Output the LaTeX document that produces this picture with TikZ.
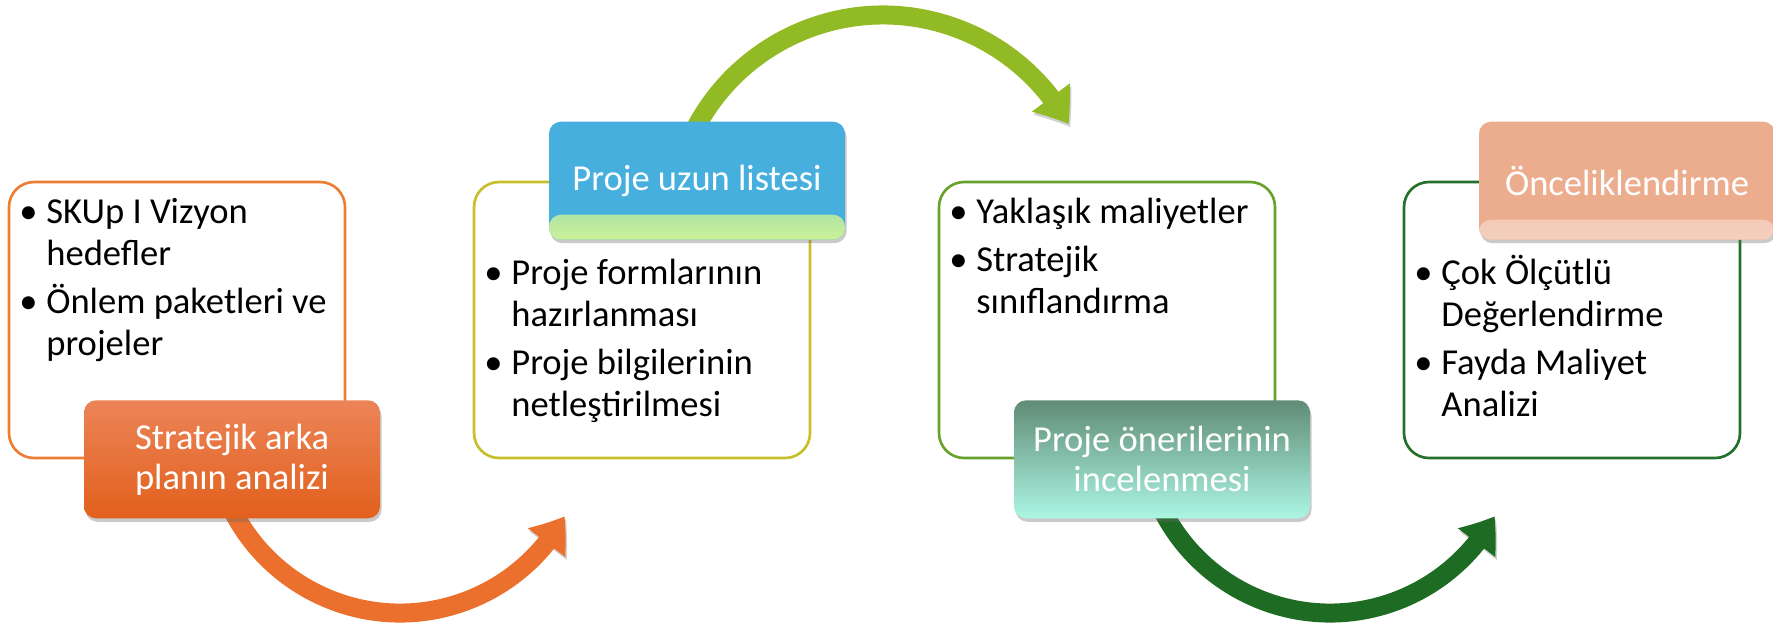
\documentclass[tikz,border=0pt]{standalone}
\usepackage{fontspec}
\setmainfont{Carlito}
\usetikzlibrary{positioning,shadows,arrows.meta,bending,calc}

\definecolor{boxorange}{RGB}{237,125,49}
\definecolor{boxolive}{RGB}{200,190,40}
\definecolor{boxgreen}{RGB}{104,162,44}
\definecolor{boxdkgreen}{RGB}{34,112,42}
\definecolor{laborangetop}{RGB}{236,132,88}
\definecolor{laborangemid}{RGB}{240,112,40}
\definecolor{laborangebot}{RGB}{226,96,28}
\definecolor{labblue}{RGB}{71,175,222}
\definecolor{labltgreen}{RGB}{204,242,150}
\definecolor{labtealtop}{RGB}{96,140,118}
\definecolor{labtealbot}{RGB}{172,246,228}
\definecolor{labsalmon}{RGB}{236,173,143}
\definecolor{labsalmonbot}{RGB}{244,208,190}
\definecolor{arroworange}{RGB}{236,112,45}
\definecolor{arrowgreen}{RGB}{146,186,36}
\definecolor{arrowdkgreen}{RGB}{30,108,36}

\newcommand{\itemfont}{\fontsize{10.4}{11.9}\selectfont}
\newcommand{\bitem}[1]{\par\hangindent=0.27cm\hangafter=1\noindent\makebox[0.27cm][l]{\textbullet}#1\par}
\newcommand{\itemgap}{\vspace{1.7pt}}

\tikzset{
  stagebox/.style={draw, line width=0.75pt, fill=white, rounded corners=0.25cm,
    minimum width=3.36cm, minimum height=2.76cm, inner sep=0pt},
  stagelabel/.style={rounded corners=0.12cm, minimum width=2.96cm, minimum height=1.18cm,
    inner sep=0pt, align=center, text=white, font=\fontsize{10.4}{11.4}\selectfont,
    drop shadow={shadow xshift=0.015cm, shadow yshift=-0.035cm, opacity=0.35, fill=black!60}},
  itemtext/.style={anchor=base west, inner sep=0pt, font=\itemfont},
  flowarrow/.style={line width=0.19cm, -{Triangle[length=0.32cm,width=0.45cm,bend]},
    preaction={draw=black, opacity=0.18, transform canvas={shift={(0.015cm,-0.03cm)}}}}
}

\begin{document}
\begin{tikzpicture}
\useasboundingbox (0,0) rectangle (17.73,6.28);

\coordinate (arc1) at (4.00,2.03);
\coordinate (arc2) at (8.83,4.01);
\coordinate (arc3) at (13.30,2.03);
\draw[flowarrow, draw=arroworange] ([shift={(-160:1.88)}]arc1) arc[start angle=-160, end angle=-29, radius=1.88];
\draw[flowarrow, draw=arrowgreen] ([shift={(160:2.12)}]arc2) arc[start angle=160, end angle=29, radius=2.12];
\draw[flowarrow, draw=arrowdkgreen] ([shift={(-160:1.88)}]arc3) arc[start angle=-160, end angle=-29, radius=1.88];

\node[stagebox, draw=boxorange] (box1) at (1.77,3.08) {};
\node[stagebox, draw=boxolive] (box2) at (6.42,3.08) {};
\node[stagebox, draw=boxgreen] (box3) at (11.07,3.08) {};
\node[stagebox, draw=boxdkgreen] (box4) at (15.72,3.08) {};

\node[itemtext] (txt1) at ([xshift=0.11cm,yshift=-0.43cm]box1.north west)
  {\parbox[t]{3.2cm}{\bitem{SKUp I Vizyon\\hedefler}\itemgap\bitem{Önlem paketleri ve\\projeler}}};
\node[itemtext] (txt2) at ([xshift=0.11cm,yshift=-1.04cm]box2.north west)
  {\parbox[t]{3.2cm}{\bitem{Proje formlarının\\hazırlanması}\itemgap\bitem{Proje bilgilerinin\\netleştirilmesi}}};
\node[itemtext] (txt3) at ([xshift=0.11cm,yshift=-0.43cm]box3.north west)
  {\parbox[t]{3.2cm}{\bitem{Yaklaşık maliyetler}\itemgap\bitem{Stratejik\\sınıflandırma}}};
\node[itemtext] (txt4) at ([xshift=0.11cm,yshift=-1.04cm]box4.north west)
  {\parbox[t]{3.2cm}{\bitem{Çok Ölçütlü\\Değerlendirme}\itemgap\bitem{Fayda Maliyet\\Analizi}}};

\node[stagelabel, top color=laborangetop, middle color=laborangemid, bottom color=laborangebot]
  (lab1) at ([xshift=0.55cm]box1.south) {Stratejik arka\\planın analizi};
\node[stagelabel, fill=labblue,
  path picture={\shade[top color=labblue, bottom color=labltgreen] (path picture bounding box.south west) rectangle ([yshift=0.25cm]path picture bounding box.south east);}]
  (lab2) at ([xshift=0.55cm]box2.north) {Proje uzun listesi};
\node[stagelabel, top color=labtealtop, bottom color=labtealbot]
  (lab3) at ([xshift=0.55cm]box3.south) {Proje önerilerinin\\incelenmesi};
\node[stagelabel, fill=labsalmon,
  path picture={\shade[top color=labsalmon, bottom color=labsalmonbot] (path picture bounding box.south west) rectangle ([yshift=0.2cm]path picture bounding box.south east);}]
  (lab4) at ([xshift=0.55cm]box4.north) {Önceliklendirme};
\end{tikzpicture}
\end{document}
